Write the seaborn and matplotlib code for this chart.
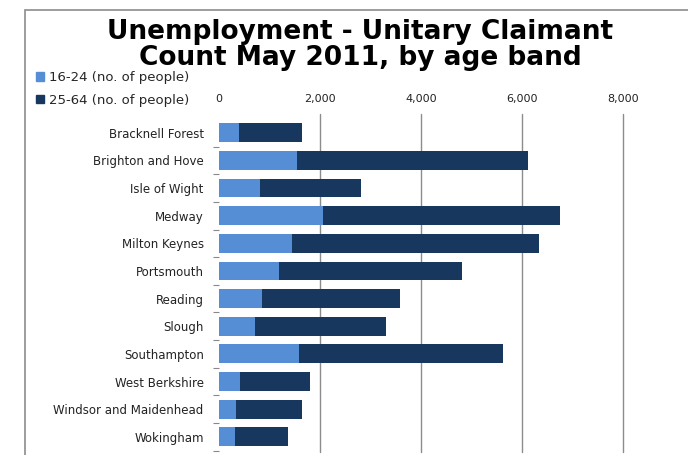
import pandas as pd
import matplotlib.pyplot as plt
import matplotlib.patches as mpatches
from matplotlib.ticker import FuncFormatter, FixedLocator
import seaborn as sns

# Claimant counts
areas = ['Bracknell Forest', 'Brighton and Hove', 'Isle of Wight', 'Medway',
         'Milton Keynes', 'Portsmouth', 'Reading', 'Slough', 'Southampton',
         'West Berkshire', 'Windsor and Maidenhead', 'Wokingham']
age_16_24 = [400, 1550, 810, 2060, 1450, 1190, 850, 710, 1580, 420, 340, 320]
age_25_64 = [1250, 4570, 2000, 4690, 4890, 3620, 2730, 2600, 4040, 1380, 1300, 1050]
x_ticks = [0, 2000, 4000, 6000, 8000]

light = '#558ED5'
dark = '#17375E'

df = pd.DataFrame({'Area': areas, 'young': age_16_24, 'older': age_25_64})
df['total'] = df['young'] + df['older']

sns.set_style('white')
plt.rcParams['font.family'] = ['DejaVu Sans']

fig = plt.figure(figsize=(6.88, 4.55), dpi=100)
ax = fig.add_axes([219 / 688, 1 - 452 / 455, (623 - 219) / 688, (452 - 114) / 455])

# stacked bars: totals in dark, then the 16-24 part drawn over them
sns.barplot(data=df, y='Area', x='total', color=dark, width=0.68, saturation=1,
            orient='h', linewidth=0, ax=ax)
sns.barplot(data=df, y='Area', x='young', color=light, width=0.68, saturation=1,
            orient='h', linewidth=0, ax=ax)

ax.set_xlim(0, 8000)
ax.set_ylim(len(areas) - 0.5 + 0.05, -0.5 - 0.18)
ax.set_xlabel('')
ax.set_ylabel('')
ax.xaxis.set_major_locator(FixedLocator(x_ticks))
ax.xaxis.set_major_formatter(FuncFormatter(lambda v, p: f'{int(v):,}'))
ax.xaxis.tick_top()
ax.tick_params(axis='x', length=0, labelsize=8, colors='#222222', pad=7)
ax.tick_params(axis='y', which='major', length=0, labelsize=8.5, colors='#222222', pad=11)
ax.yaxis.set_minor_locator(FixedLocator([i + 0.5 for i in range(len(areas))]))
ax.tick_params(axis='y', which='minor', left=True, length=4, direction='out',
               color='#888888', width=0.8)
ax.grid(axis='x', color='#8c8c8c', linewidth=1)
gridlines = ax.get_xgridlines()
for gl in gridlines:
    gl.set_clip_on(False)
gridlines[0].set_visible(False)
ax.set_axisbelow(True)
for s in ax.spines.values():
    s.set_visible(False)

# outer frame
fig.patches.append(mpatches.Rectangle((25 / 688, -0.05), 1, 1 - 10 / 455 + 0.05,
                                      transform=fig.transFigure, fill=False,
                                      edgecolor='#8c8c8c', linewidth=1.2))

fig.text(360 / 688, 1 - 45 / 455, 'Unemployment - Unitary Claimant\nCount May 2011, by age band',
         ha='center', va='center', fontsize=19, fontweight='bold', linespacing=0.98,
         color='black')

handles = [mpatches.Patch(color=light), mpatches.Patch(color=dark)]
fig.legend(handles, ['16-24 (no. of people)', '25-64 (no. of people)'],
           loc='upper left', bbox_to_anchor=(36 / 688, 1 - 71 / 455), frameon=False,
           fontsize=9.5, handlelength=0.6, handleheight=0.6, handletextpad=0.35,
           labelspacing=0.75, borderaxespad=0, borderpad=0)

fig.savefig('out.png', dpi=100)
